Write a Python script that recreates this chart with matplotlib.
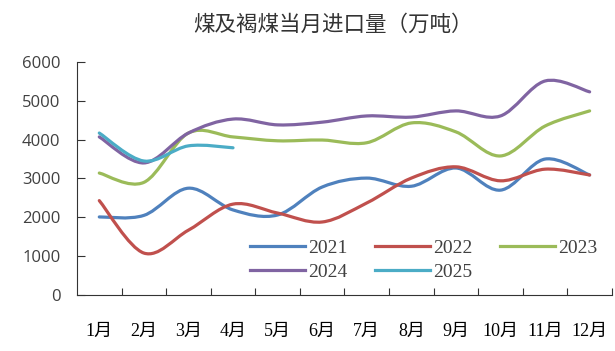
import matplotlib
matplotlib.use("Agg")
import matplotlib.pyplot as plt
from matplotlib.path import Path
from matplotlib.patches import PathPatch
from matplotlib.lines import Line2D

# ===== 数据 =====
months = ["1月", "2月", "3月", "4月", "5月", "6月", "7月", "8月", "9月", "10月", "11月", "12月"]
y2021 = [2010, 2050, 2750, 2190, 2060, 2780, 3010, 2800, 3270, 2700, 3500, 3090]
y2022 = [2430, 1080, 1670, 2340, 2110, 1880, 2370, 3010, 3300, 2940, 3240, 3090]
y2023 = [3140, 2900, 4170, 4070, 3970, 3990, 3920, 4430, 4200, 3580, 4350, 4740]
y2024 = [4070, 3400, 4170, 4530, 4380, 4450, 4610, 4580, 4740, 4610, 5510, 5230]
y2025 = [4170, 3450, 3840, 3790]

series = [
    ("2021", y2021, "#4F81BD"),
    ("2022", y2022, "#C0504D"),
    ("2023", y2023, "#9BBB59"),
    ("2024", y2024, "#8064A2"),
    ("2025", y2025, "#4BACC6"),
]


def smooth_path(xs, ys):
    # Excel 风格平滑线: 三次贝塞尔
    pts = list(zip(xs, ys))
    verts = [pts[0]]
    codes = [Path.MOVETO]
    n = len(pts)
    for i in range(n - 1):
        p0 = pts[i - 1] if i > 0 else pts[i]
        p1 = pts[i]
        p2 = pts[i + 1]
        p3 = pts[i + 2] if i + 2 < n else pts[i + 1]
        c1 = (p1[0] + (p2[0] - p0[0]) / 6, p1[1] + (p2[1] - p0[1]) / 6)
        c2 = (p2[0] - (p3[0] - p1[0]) / 6, p2[1] - (p3[1] - p1[1]) / 6)
        verts += [c1, c2, p2]
        codes += [Path.CURVE4] * 3
    return Path(verts, codes)


serif = ["Liberation Serif", "Noto Sans CJK SC"]

# ===== 绘图 =====
fig = plt.figure(figsize=(6.15, 3.51), dpi=100)
ax = fig.add_axes([0.1252, 0.1595, 0.8698, 0.664])

handles = {}
for name, vals, color in series:
    xs = list(range(len(vals)))
    patch = PathPatch(smooth_path(xs, vals), facecolor="none", edgecolor=color,
                      lw=2.3, capstyle="round", joinstyle="round")
    ax.add_patch(patch)
    handles[name] = Line2D([], [], color=color, lw=2.3, label=name)

ax.set_xlim(-0.5, 11.5)
ax.set_ylim(0, 6000)
ax.set_yticks(range(0, 6001, 1000))
ax.set_xticks([i + 0.5 for i in range(12)], minor=False)
ax.set_xticklabels([])
ax.set_xticks(range(12), minor=True)
ax.set_xticklabels(months, minor=True, fontfamily=serif, fontsize=13)
ax.tick_params(axis="x", which="minor", length=0, pad=20)
ax.tick_params(axis="x", which="major", direction="in", length=5, color="#333333")
ax.tick_params(axis="y", direction="in", length=6, color="#333333",
               labelsize=12, labelcolor="#404040", pad=12)
for lab in ax.get_yticklabels():
    lab.set_fontfamily("Open Sans")

ax.spines["top"].set_visible(False)
ax.spines["right"].set_visible(False)
ax.spines["left"].set_color("#333333")
ax.spines["bottom"].set_color("#333333")

# 图例按行排列: 列优先顺序
order = ["2021", "2024", "2022", "2025", "2023"]
leg = ax.legend(handles=[handles[k] for k in order], ncol=3, frameon=False,
                loc="lower left", bbox_to_anchor=(0.323, 0.06), borderpad=0,
                borderaxespad=0, handlelength=2.85, columnspacing=1.4,
                handletextpad=0.15, labelspacing=0.33,
                prop={"family": "Liberation Serif", "size": 14})
for t in leg.get_texts():
    t.set_color("#404040")

fig.text(0.542, 0.929, "煤及褐煤当月进口量（万吨）", ha="center", va="center",
         fontsize=15.5, fontfamily=["Noto Sans CJK SC", "DejaVu Sans"], color="#333333")

plt.savefig("out.png", dpi=100)
plt.close()
